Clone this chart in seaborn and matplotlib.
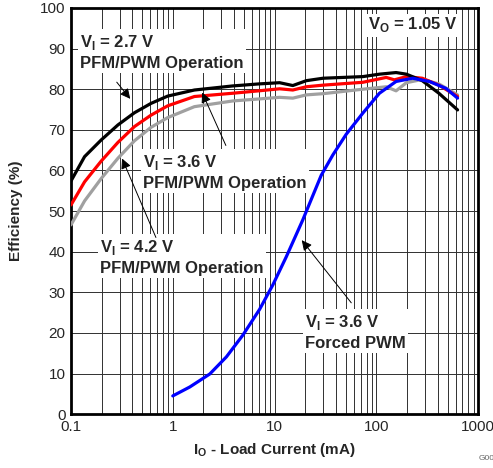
import numpy as np
import pandas as pd
import matplotlib
matplotlib.use("Agg")
import matplotlib.pyplot as plt
import seaborn as sns
from matplotlib.ticker import LogLocator, FixedLocator

# curvas (corrente em mA, eficiencia em %)
i_27 = [0.1, 0.136, 0.198, 0.289, 0.42, 0.61, 0.89, 1.63, 3.86, 7.0, 11.2, 15.1, 20.5, 29.9, 73.5, 107, 156, 197, 282, 411, 627]
ef_27 = [57.4, 63.4, 67.5, 71.2, 74.2, 76.5, 78.3, 79.8, 80.8, 81.3, 81.6, 80.9, 82.1, 82.7, 83.1, 83.7, 84.1, 83.7, 82.1, 79.0, 74.9]

i_36 = [0.1, 0.136, 0.198, 0.289, 0.42, 0.61, 0.89, 1.63, 3.86, 7.0, 11.2, 15.1, 20.5, 30, 73.5, 125, 150, 197, 282, 411, 627]
ef_36 = [51.5, 57.2, 62.3, 66.9, 70.8, 73.6, 75.9, 78.2, 79.0, 79.6, 80.1, 79.8, 80.6, 81.0, 81.7, 82.9, 82.3, 83.1, 82.7, 81.0, 78.2]

i_42 = [0.1, 0.136, 0.198, 0.289, 0.42, 0.61, 0.89, 1.63, 3.86, 7.0, 11.2, 15.1, 20.5, 30, 73.5, 125, 156, 197, 282, 411, 627]
ef_42 = [46.6, 52.5, 58.0, 63.0, 67.3, 70.6, 73.0, 75.7, 77.1, 77.6, 78.0, 77.8, 78.6, 78.9, 80.0, 80.6, 79.6, 81.6, 82.4, 81.3, 78.6]

i_pwm = [1.0, 1.47, 2.31, 3.36, 4.89, 7.12, 9.6, 13.0, 18.9, 28.7, 37.3, 50.5, 73.5, 107, 156, 227, 331, 482, 627]
ef_pwm = [4.5, 6.7, 9.9, 14.1, 19.5, 25.8, 31.8, 38.7, 47.8, 58.8, 63.8, 68.9, 74.1, 79.0, 81.9, 82.7, 81.9, 80.2, 77.8]

y_ticks = [0, 10, 20, 30, 40, 50, 60, 70, 80, 90, 100]
x_ticks = [0.1, 1, 10, 100, 1000]
x_labels = ['0.1', '1', '10', '100', '1000']

sns.set_style("white")
plt.rcParams['font.family'] = ['Liberation Sans', 'DejaVu Sans']
plt.rcParams['mathtext.fontset'] = 'custom'
plt.rcParams['mathtext.rm'] = 'Liberation Sans'
plt.rcParams['mathtext.bf'] = 'Liberation Sans:bold'

fig = plt.figure(figsize=(4.93, 4.68), dpi=100)
ax = fig.add_axes([0.144, 0.115, 0.826, 0.868])

curvas = [(i_42, ef_42, '#a0a0a0'), (i_36, ef_36, '#ff0000'),
          (i_27, ef_27, '#000000'), (i_pwm, ef_pwm, '#0000ff')]
for xs, ys, cor in curvas:
    d = pd.DataFrame({'i': xs, 'ef': ys})
    sns.lineplot(data=d, x='i', y='ef', color=cor, linewidth=2.3, ax=ax, sort=False, zorder=5)

ax.set_xscale('log')
ax.set_xlim(0.1, 1000)
ax.set_ylim(0, 100)
ax.xaxis.set_major_locator(FixedLocator(x_ticks))
ax.set_xticklabels(x_labels)
ax.xaxis.set_minor_locator(LogLocator(base=10, subs=np.arange(2, 10)))
ax.set_yticks(y_ticks)
ax.grid(True, which='both', color='#303030', linewidth=0.7)
ax.tick_params(which='both', length=0, labelsize=11, pad=4)
for s in ax.spines.values():
    s.set_linewidth(2)
    s.set_color('black')

ax.set_xlabel(r'I$_\mathbf{O}$ - Load Current (mA)', fontsize=11, fontweight='bold', labelpad=5)
ax.set_ylabel('Efficiency (%)', fontsize=11, fontweight='bold', labelpad=12)

caixa = dict(facecolor='white', edgecolor='none', pad=1.5)
H = 468


def anot(texto, pos, seta):
    ax.text(pos[0], H - pos[1], texto, transform=None, fontsize=12, fontweight='bold',
            ha='left', va='center', bbox=caixa, zorder=7, linespacing=1.35)
    if seta is not None:
        ax.annotate('', xy=(seta[1][0], H - seta[1][1]), xytext=(seta[0][0], H - seta[0][1]),
                    xycoords='figure pixels', textcoords='figure pixels',
                    arrowprops=dict(arrowstyle='-|>', color='black', lw=0.7, mutation_scale=15),
                    zorder=8)


anot('V$_\\mathbf{I}$ = 2.7 V\nPFM/PWM Operation', (80, 52), ((115, 80), (132, 101)))
anot('V$_\\mathbf{I}$ = 3.6 V\nPFM/PWM Operation', (143, 172), ((227, 148), (201, 90)))
anot('V$_\\mathbf{I}$ = 4.2 V\nPFM/PWM Operation', (100, 257), ((157, 240), (121, 156)))
anot('V$_\\mathbf{I}$ = 3.6 V\nForced PWM', (305, 332), ((353, 305), (300, 238)))
anot('V$_\\mathbf{O}$ = 1.05 V', (368, 25), None)

fig.text(0.97, 0.012, 'G00', fontsize=6, color='#666666', ha='left', va='bottom')

fig.savefig('out.png', dpi=100)
